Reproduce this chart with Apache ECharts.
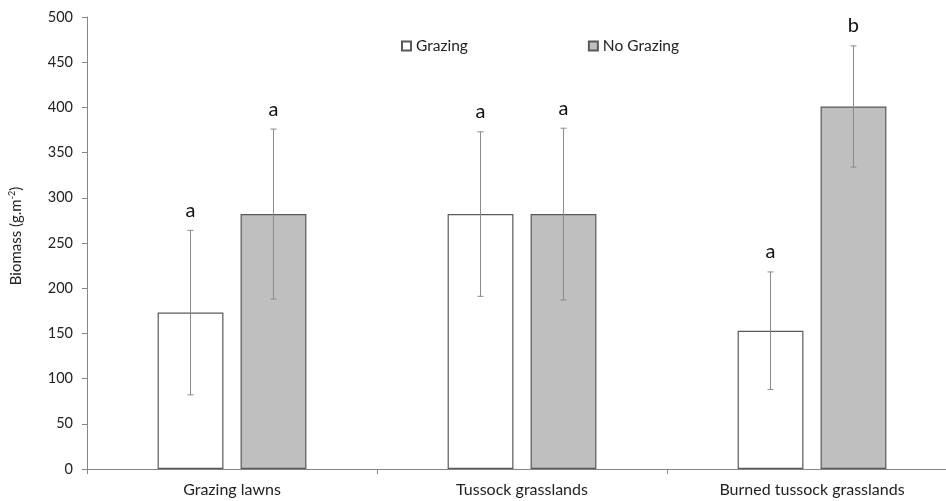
<!DOCTYPE html>
<html>
<head>
<meta charset="utf-8">
<script src="https://cdn.jsdelivr.net/npm/echarts@6/dist/echarts.min.js"></script>
<style>
  html, body { margin: 0; padding: 0; background: #fff; overflow: hidden; }
  /* the plot runs a little past the right edge of the window */
  #chart { width: 957px; height: 501px; }
</style>
</head>
<body>
<div id="chart"></div>
<script>
// Aboveground biomass by vegetation type and grazing treatment
const categories = ['Grazing lawns', 'Tussock grasslands', 'Burned tussock grasslands'];
const grazingMean = [173, 282, 153];
const grazingErr = [91, 91, 65];
const noGrazingMean = [282, 282, 401];
const noGrazingErr = [94, 95, 67];
const grazingLetters = ['a', 'a', 'a'];
const noGrazingLetters = ['a', 'a', 'b'];
const yTicks = { min: 0, max: 500, interval: 50 };

const FONT = 'Lato, "Open Sans", sans-serif';
const BAR_W = 0.227;   // bar width as share of a category band
const BAR_GAP = 0.26;  // gap between paired bars, share of bar width

// Error bar + significance letter, offset to sit over its bar
function errorSeries(name, means, errs, letters, side) {
  return {
    name: name + ' error',
    type: 'custom',
    silent: true,
    z: 5,
    data: means.map((m, i) => [i, m, errs[i]]),
    renderItem: function (params, api) {
      const band = api.size([1, 0])[0];
      const off = side * band * (BAR_W + BAR_W * BAR_GAP) / 2;
      const c = api.coord([api.value(0), api.value(1)]);
      const x = c[0] + off;
      const yTop = api.coord([api.value(0), api.value(1) + api.value(2)])[1];
      const yBot = api.coord([api.value(0), api.value(1) - api.value(2)])[1];
      const cap = 3;
      const st = { stroke: '#8a8a8a', lineWidth: 1 };
      return {
        type: 'group',
        children: [
          { type: 'line', shape: { x1: x, y1: yTop, x2: x, y2: yBot }, style: st },
          { type: 'line', shape: { x1: x - cap, y1: yTop, x2: x + cap, y2: yTop }, style: st },
          { type: 'line', shape: { x1: x - cap, y1: yBot, x2: x + cap, y2: yBot }, style: st },
          {
            type: 'text',
            style: {
              x: x, y: yTop - 20, text: letters[params.dataIndex],
              align: 'center', verticalAlign: 'middle',
              font: '20px ' + FONT, fill: '#111'
            }
          }
        ]
      };
    }
  };
}

const chart = echarts.init(document.getElementById('chart'), null, { renderer: 'canvas' });
chart.setOption({
  backgroundColor: '#fff',
  animation: false,
  textStyle: { fontFamily: FONT },
  legend: {
    left: 396,
    top: 33,
    itemWidth: 9,
    itemHeight: 9,
    itemGap: 120,
    icon: 'rect',
    textStyle: { fontSize: 15.5, color: '#222', fontFamily: FONT },
    data: ['Grazing', 'No Grazing']
  },
  grid: { left: 87, right: 0, top: 17, bottom: 32, containLabel: false },
  xAxis: {
    type: 'category',
    data: categories,
    axisLine: { lineStyle: { color: '#868686', width: 1 } },
    axisTick: { show: true, length: 5, lineStyle: { color: '#868686' } },
    axisLabel: { fontSize: 16, color: '#222', margin: 13, fontFamily: FONT }
  },
  yAxis: {
    type: 'value',
    min: yTicks.min,
    max: yTicks.max,
    interval: yTicks.interval,
    name: '{n|Biomass (g.m}{sup|-2}{n|)}',
    nameLocation: 'middle',
    nameRotate: 90,
    nameGap: 62,
    nameTextStyle: {
      fontSize: 15, color: '#222', fontFamily: FONT, padding: [0, 0, 0, 14],
      rich: {
        n: { fontSize: 15, color: '#222', fontFamily: FONT },
        sup: { fontSize: 9, verticalAlign: 'top', padding: [0, 0, 8, 0], color: '#222', fontFamily: FONT }
      }
    },
    axisLine: { show: true, lineStyle: { color: '#868686', width: 1 } },
    axisTick: { show: true, length: 5, lineStyle: { color: '#868686' } },
    splitLine: { show: false },
    axisLabel: { fontSize: 14.5, color: '#222', margin: 14, fontFamily: FONT }
  },
  series: [
    {
      name: 'Grazing',
      type: 'bar',
      data: grazingMean,
      barWidth: (BAR_W * 100) + '%',
      barGap: (BAR_GAP * 100) + '%',
      itemStyle: { color: '#ffffff', borderColor: '#595959', borderWidth: 1.2 }
    },
    {
      name: 'No Grazing',
      type: 'bar',
      data: noGrazingMean,
      barWidth: (BAR_W * 100) + '%',
      barGap: (BAR_GAP * 100) + '%',
      itemStyle: { color: '#bfbfbf', borderColor: '#595959', borderWidth: 1.2 }
    },
    errorSeries('Grazing', grazingMean, grazingErr, grazingLetters, -1),
    errorSeries('No Grazing', noGrazingMean, noGrazingErr, noGrazingLetters, 1)
  ]
});
</script>
</body>
</html>
